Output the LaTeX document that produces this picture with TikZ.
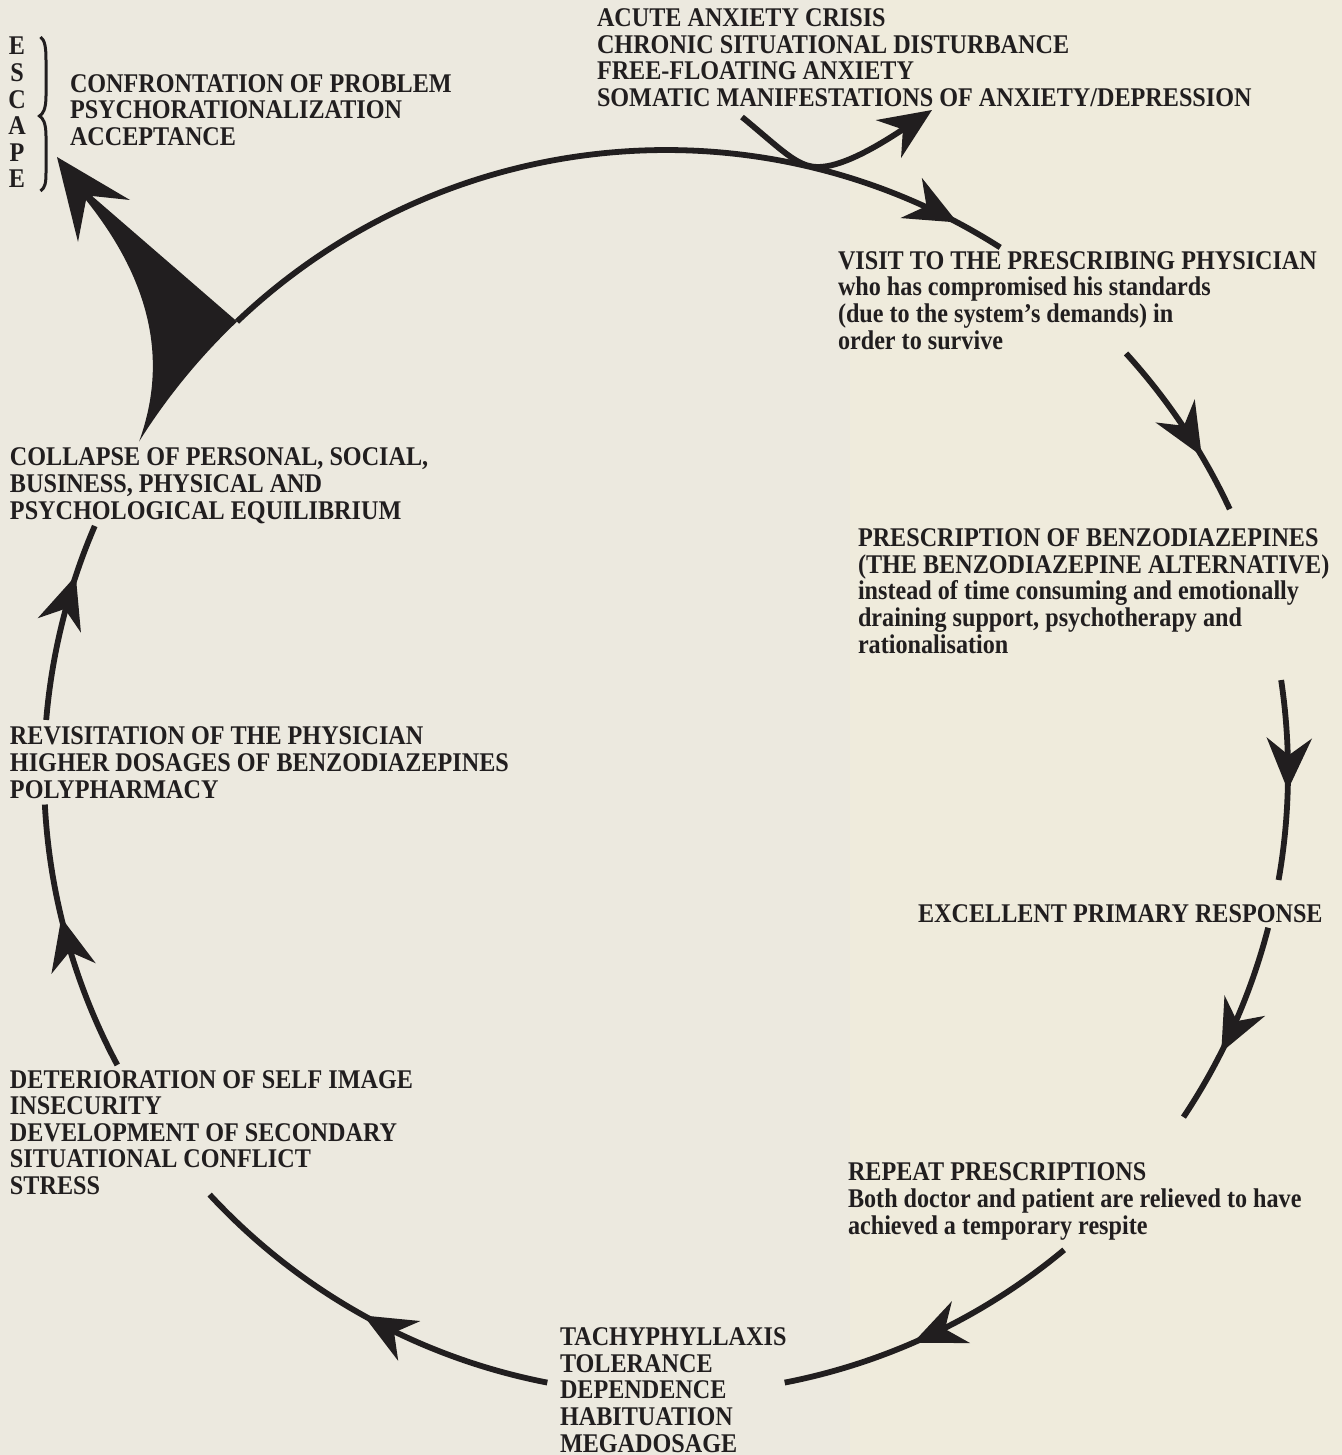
\documentclass[tikz,border=0pt]{standalone}
\usepackage{fontspec}
\setmainfont{Liberation Serif}[FakeStretch=0.895]
\usetikzlibrary{arrows.meta,decorations.markings}
\definecolor{ink}{RGB}{33,30,31}
\definecolor{bgL}{RGB}{236,233,223}
\definecolor{bgR}{RGB}{239,235,220}
\newcommand\txtfont{\fontsize{13.5pt}{13.3pt}\selectfont\bfseries}
\begin{document}
\begin{tikzpicture}[x=0.5pt,y=0.5pt,
  >={Stealth[length=26pt,width=22.5pt,inset=8.5pt]},
  txt/.style={anchor=base west,inner sep=0pt,outer sep=0pt,align=left,font=\txtfont,text=ink},
  cyc/.style={draw=ink,line width=2.9pt},
  midarrow/.style={postaction={decorate},decoration={markings,mark=at position #1 with {\arrow{>}}}}]
\useasboundingbox (0,0) rectangle (1342,-1455);
\fill[bgL] (0,0) rectangle (850,-1455);
\fill[bgR] (850,0) rectangle (1342,-1455);
\coordinate (c) at (666,-772);

% texts (anchored at the baseline of their last line)
\node[txt,anchor=base,align=center] (esc) at (17,-188) {E\\S\\C\\A\\P\\E};
\node[txt] (conf) at (70,-145.5) {CONFRONTATION OF PROBLEM\\PSYCHORATIONALIZATION\\ACCEPTANCE};
\node[txt] (acute) at (597,-106.5) {ACUTE ANXIETY CRISIS\\CHRONIC SITUATIONAL DISTURBANCE\\FREE-FLOATING ANXIETY\\SOMATIC MANIFESTATIONS OF ANXIETY/DEPRESSION};
\node[txt] (visit) at (838,-349) {VISIT TO THE PRESCRIBING PHYSICIAN\\who has compromised his standards\\(due to the system’s demands) in\\order to survive};
\node[txt] (presc) at (858,-653) {PRESCRIPTION OF BENZODIAZEPINES\\(THE BENZODIAZEPINE ALTERNATIVE)\\instead of time consuming and emotionally\\draining support, psychotherapy and\\rationalisation};
\node[txt] (excel) at (918,-922) {EXCELLENT PRIMARY RESPONSE};
\node[txt] (repeat) at (848,-1234) {REPEAT PRESCRIPTIONS\\Both doctor and patient are relieved to have\\achieved a temporary respite};
\node[txt] (tachy) at (560,-1452) {TACHYPHYLLAXIS\\TOLERANCE\\DEPENDENCE\\HABITUATION\\MEGADOSAGE};
\node[txt] (deter) at (10,-1194.5) {DETERIORATION OF SELF IMAGE\\INSECURITY\\DEVELOPMENT OF SECONDARY\\SITUATIONAL CONFLICT\\STRESS};
\node[txt] (revis) at (10,-798) {REVISITATION OF THE PHYSICIAN\\HIGHER DOSAGES OF BENZODIAZEPINES\\POLYPHARMACY};
\node[txt] (coll) at (10,-519) {COLLAPSE OF PERSONAL, SOCIAL,\\BUSINESS, PHYSICAL AND\\PSYCHOLOGICAL EQUILIBRIUM};

% brace
\draw[ink,line width=1.5pt] (40.5,-37) .. controls (45,-40) and (46,-48) .. (46,-60) -- (46,-96)
  .. controls (46,-109) and (43,-114) .. (39.5,-116)
  .. controls (43,-118) and (46,-123) .. (46,-136) -- (46,-173)
  .. controls (46,-183) and (45,-188) .. (40.5,-191);

% escape wedge arrow
\fill[ink] (57,-157) -- (130,-200) -- (92,-196) -- ([shift={(133.6:311pt)}]c)
  arc[start angle=133.6,end angle=147.9,radius=311pt]
  .. controls (165,-370) and (158,-290) .. (86,-200) -- (78,-242) -- cycle;

% cycle arcs
\draw[cyc,midarrow=0.94] ([shift={(133.6:311pt)}]c) arc[start angle=133.6,end angle=57.5,radius=311pt];
\draw[cyc,midarrow=0.68] ([shift={(42.3:311pt)}]c) arc[start angle=42.3,end angle=25,radius=311pt];
\draw[cyc,midarrow=0.55] ([shift={(8.5:311pt)}]c) arc[start angle=8.5,end angle=-10,radius=311pt];
\draw[cyc,midarrow=0.64] ([shift={(-14.5:311pt)}]c) arc[start angle=-14.5,end angle=-33.7,radius=311pt];
\draw[cyc,midarrow=0.57] ([shift={(-50.2:311pt)}]c) arc[start angle=-50.2,end angle=-79,radius=311pt];
\draw[cyc,midarrow=0.50] ([shift={(-101:311pt)}]c) arc[start angle=-101,end angle=-137.2,radius=311pt];
\draw[cyc,midarrow=0.58] ([shift={(-151.9:311pt)}]c) arc[start angle=-151.9,end angle=-177,radius=311pt];
\draw[cyc,midarrow=0.735] ([shift={(175.2:311pt)}]c) arc[start angle=175.2,end angle=156.7,radius=311pt];

% branch from top text
\coordinate (bs) at (742,-117);
\coordinate (bt) at (932,-110);
\draw[cyc,->] (bs) .. controls (782,-150) and (797,-167) .. (818,-167)
  .. controls (840,-167) and (872,-150) .. (bt);
\end{tikzpicture}
\end{document}
